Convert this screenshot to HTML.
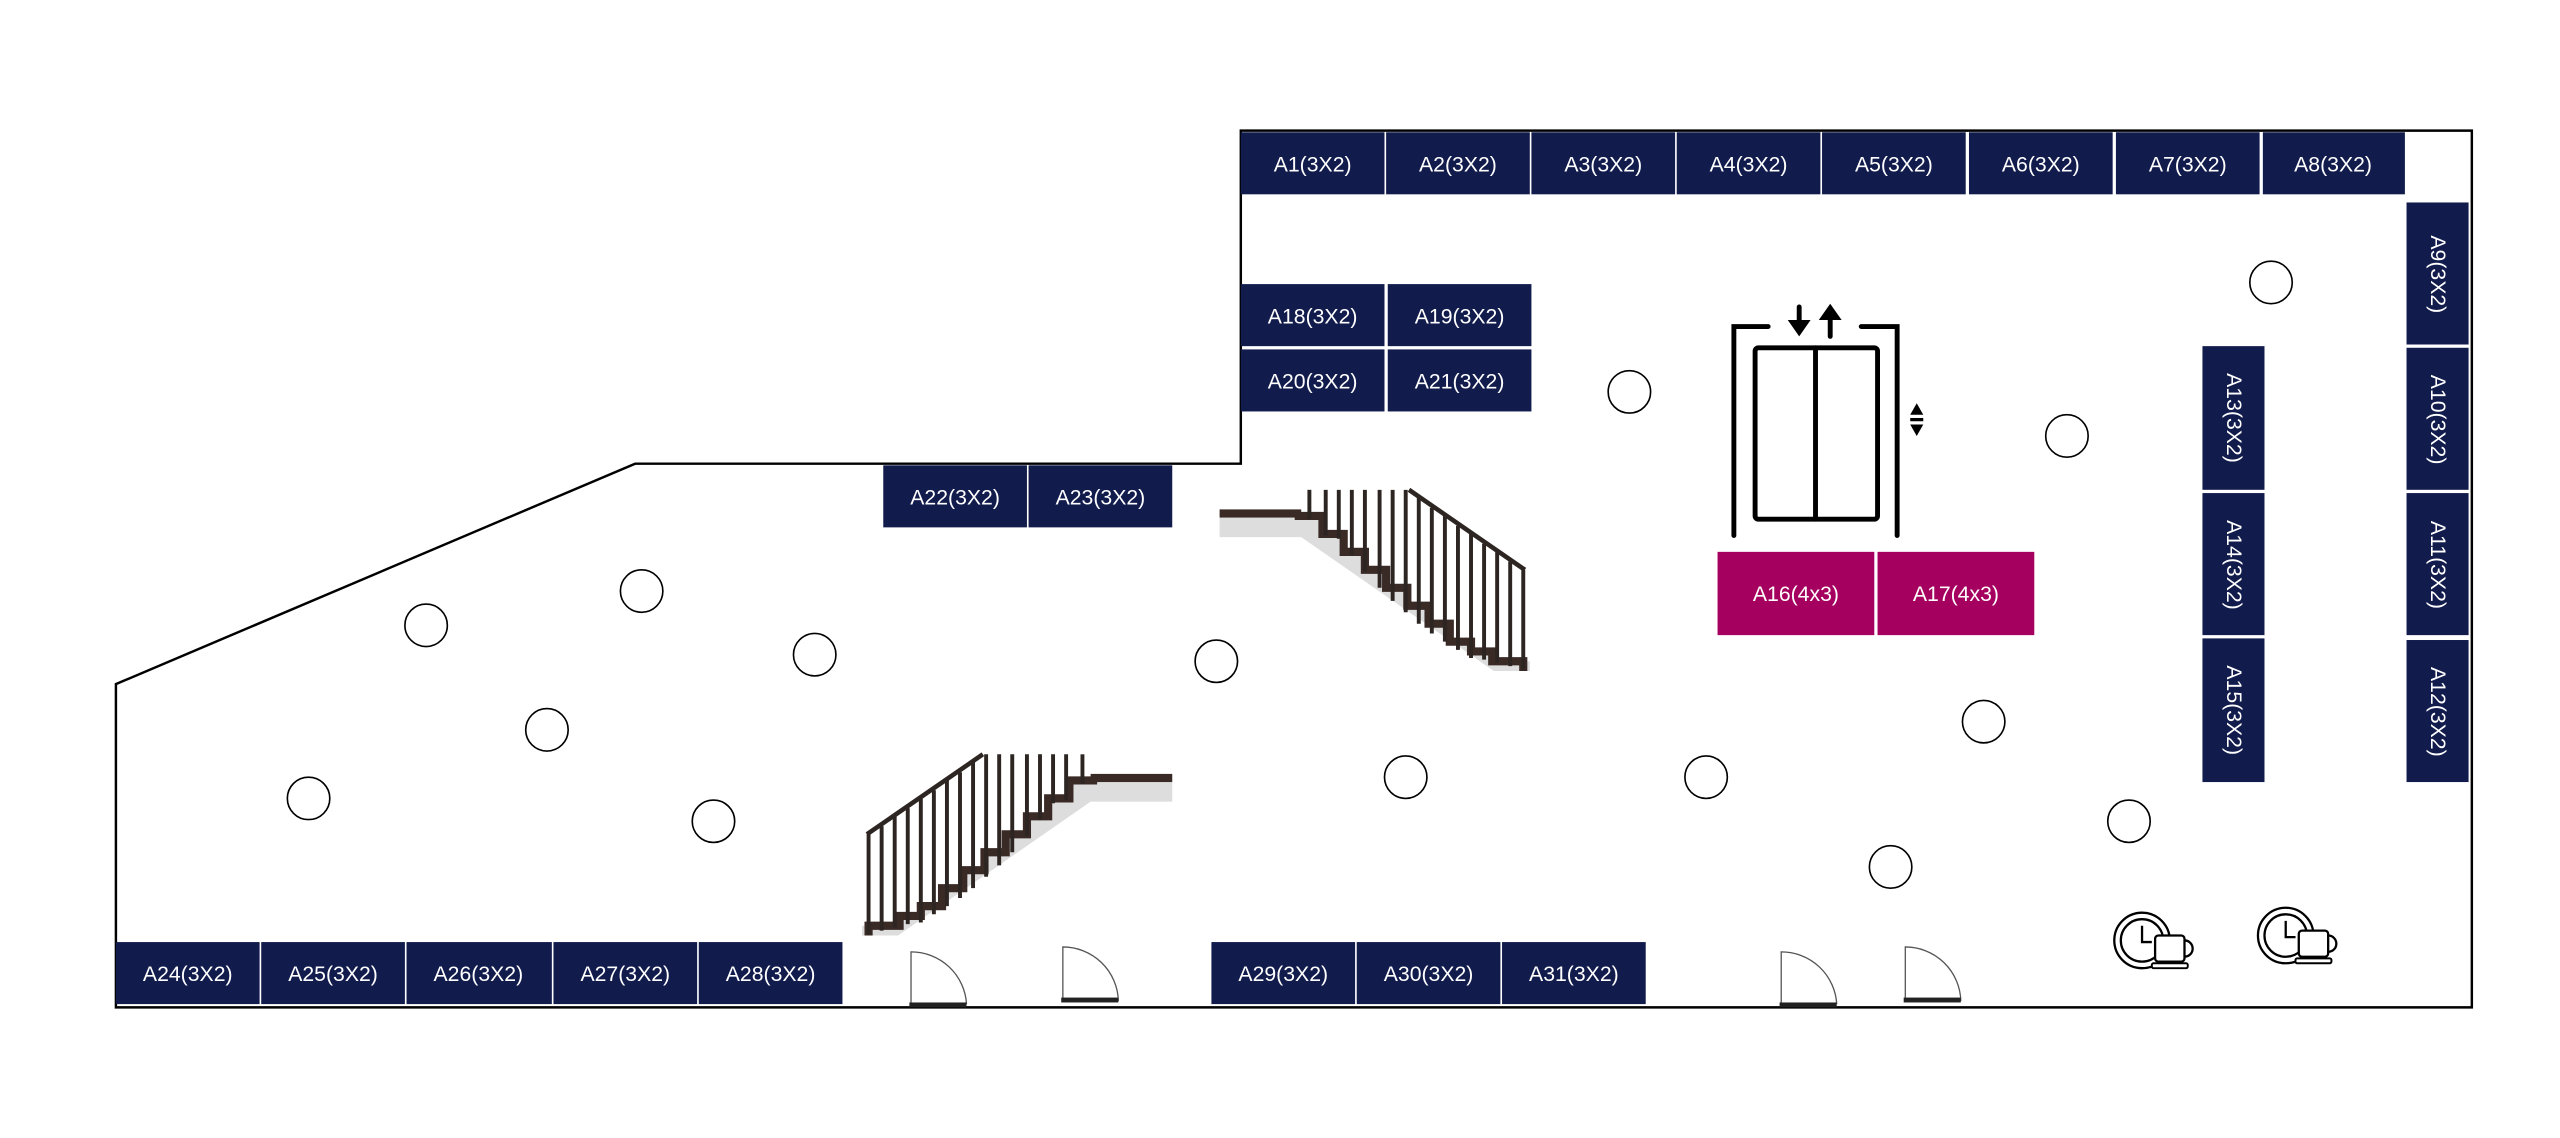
<!DOCTYPE html>
<html><head><meta charset="utf-8"><style>
html,body{margin:0;padding:0;background:#fff;}
svg{display:block}
text{font-family:"Liberation Sans",sans-serif;font-size:13px;fill:#fff;}
</style></head><body>
<svg width="2560" height="1138" viewBox="0 0 1568 697" xmlns="http://www.w3.org/2000/svg">
<defs>
<g id="stairs">
  <rect x="747" y="317" width="50" height="12" fill="#ddd"/>
  <polygon points="793,316 810,316 810,327 823,327 823,338 836,338 836,349 849,349 849,360 862,360 862,371 875,371 875,382 888,382 888,393 901,393 901,399 914,399 914,405 937,405 937,411 915,411 797,329" fill="#ddd"/>
  <rect x="747" y="312" width="50" height="5" fill="#3a2a26"/>
  <path d="M793,316 H810 V327 H823 V338 H836 V349 H849 V360 H862 V371 H875 V382 H888 V393 H901 V399 H914 V405 H933 V411" fill="none" stroke="#3a2a26" stroke-width="5"/>
  <g stroke="#2d2522" stroke-width="2.4">
    <line x1="802" y1="300" x2="802" y2="318"/>
    <line x1="812" y1="300" x2="812" y2="328"/>
    <line x1="820" y1="300" x2="820" y2="330"/>
    <line x1="828" y1="300" x2="828" y2="340"/>
    <line x1="836" y1="300" x2="836" y2="350"/>
    <line x1="845" y1="300" x2="845" y2="360"/>
    <line x1="853" y1="300" x2="853" y2="368"/>
    <line x1="861" y1="300" x2="861" y2="375"/>
    <line x1="869" y1="305" x2="869" y2="382"/>
    <line x1="877" y1="311" x2="877" y2="388"/>
    <line x1="885" y1="316" x2="885" y2="393"/>
    <line x1="893" y1="322" x2="893" y2="398"/>
    <line x1="901" y1="327" x2="901" y2="403"/>
    <line x1="909" y1="333" x2="909" y2="404"/>
    <line x1="917" y1="338" x2="917" y2="406"/>
    <line x1="925" y1="344" x2="925" y2="408"/>
    <line x1="933" y1="349" x2="933" y2="410"/>
    <line x1="863" y1="300" x2="934" y2="349" stroke-width="2.8"/>
  </g>
</g>
<g id="clock">
  <circle cx="0" cy="0" r="17" fill="#fff" stroke="#000" stroke-width="1.4"/>
  <circle cx="0" cy="0" r="13" fill="none" stroke="#000" stroke-width="1.4"/>
  <path d="M0,-9 V1 H6" fill="none" stroke="#000" stroke-width="1.4"/>
  <rect x="8" y="-3" width="18" height="16" rx="2" fill="#fff" stroke="#000" stroke-width="1.4"/>
  <path d="M26,0 a5,5 0 0 1 0,10" fill="none" stroke="#000" stroke-width="1.4"/>
  <rect x="6" y="14" width="22" height="3" rx="1" fill="#fff" stroke="#000" stroke-width="1.2"/>
</g>
</defs>

<path d="M760,80 H1514 V617 H71 V419 L389,284 H760 Z" fill="none" stroke="#000" stroke-width="1.5"/>

<g fill="#111b4c">
<rect x="760" y="81" width="88" height="38"/><rect x="849" y="81" width="88" height="38"/>
<rect x="938" y="81" width="88" height="38"/><rect x="1027" y="81" width="88" height="38"/>
<rect x="1116" y="81" width="88" height="38"/><rect x="1206" y="81" width="88" height="38"/>
<rect x="1296" y="81" width="88" height="38"/><rect x="1386" y="81" width="87" height="38"/>
<rect x="1474" y="124" width="38" height="87"/><rect x="1474" y="213" width="38" height="87"/>
<rect x="1474" y="302" width="38" height="87"/><rect x="1474" y="392" width="38" height="87"/>
<rect x="1349" y="212" width="38" height="88"/><rect x="1349" y="302" width="38" height="87"/>
<rect x="1349" y="391" width="38" height="88"/>
<rect x="760" y="174" width="88" height="38"/><rect x="850" y="174" width="88" height="38"/>
<rect x="760" y="214" width="88" height="38"/><rect x="850" y="214" width="88" height="38"/>
<rect x="541" y="285" width="88" height="38"/><rect x="630" y="285" width="88" height="38"/>
<rect x="71" y="577" width="88" height="38"/><rect x="160" y="577" width="88" height="38"/>
<rect x="249" y="577" width="89" height="38"/><rect x="339" y="577" width="88" height="38"/>
<rect x="428" y="577" width="88" height="38"/>
<rect x="742" y="577" width="88" height="38"/><rect x="831" y="577" width="88" height="38"/>
<rect x="920" y="577" width="88" height="38"/>
</g>
<g fill="#a5005f">
<rect x="1052" y="338" width="96" height="51"/><rect x="1150" y="338" width="96" height="51"/>
</g>

<g text-anchor="middle">
<text x="804" y="105">A1(3X2)</text><text x="893" y="105">A2(3X2)</text>
<text x="982" y="105">A3(3X2)</text><text x="1071" y="105">A4(3X2)</text>
<text x="1160" y="105">A5(3X2)</text><text x="1250" y="105">A6(3X2)</text>
<text x="1340" y="105">A7(3X2)</text><text x="1429" y="105">A8(3X2)</text>
<text x="804" y="198">A18(3X2)</text><text x="894" y="198">A19(3X2)</text>
<text x="804" y="238">A20(3X2)</text><text x="894" y="238">A21(3X2)</text>
<text x="585" y="309">A22(3X2)</text><text x="674" y="309">A23(3X2)</text>
<text x="1100" y="368">A16(4x3)</text><text x="1198" y="368">A17(4x3)</text>
<text x="115" y="601">A24(3X2)</text><text x="204" y="601">A25(3X2)</text>
<text x="293" y="601">A26(3X2)</text><text x="383" y="601">A27(3X2)</text>
<text x="472" y="601">A28(3X2)</text>
<text x="786" y="601">A29(3X2)</text><text x="875" y="601">A30(3X2)</text>
<text x="964" y="601">A31(3X2)</text>
<text transform="translate(1489,168) rotate(90)">A9(3X2)</text>
<text transform="translate(1489,257) rotate(90)">A10(3X2)</text>
<text transform="translate(1489,346) rotate(90)">A11(3X2)</text>
<text transform="translate(1489,436) rotate(90)">A12(3X2)</text>
<text transform="translate(1364,256) rotate(90)">A13(3X2)</text>
<text transform="translate(1364,346) rotate(90)">A14(3X2)</text>
<text transform="translate(1364,435) rotate(90)">A15(3X2)</text>
</g>

<g fill="#fff" stroke="#000" stroke-width="1">
<circle cx="998" cy="240" r="13"/><circle cx="1391" cy="173" r="13"/>
<circle cx="1266" cy="267" r="13"/><circle cx="393" cy="362" r="13"/>
<circle cx="261" cy="383" r="13"/><circle cx="499" cy="401" r="13"/>
<circle cx="745" cy="405" r="13"/><circle cx="335" cy="447" r="13"/>
<circle cx="189" cy="489" r="13"/><circle cx="437" cy="503" r="13"/>
<circle cx="861" cy="476" r="13"/><circle cx="1045" cy="476" r="13"/>
<circle cx="1215" cy="442" r="13"/><circle cx="1304" cy="503" r="13"/>
<circle cx="1158" cy="531" r="13"/>
</g>

<g fill="none" stroke="#000" stroke-width="3" stroke-linecap="round">
<path d="M1062,328 V200 H1083"/>
<path d="M1162,328 V200 H1140"/>
<rect x="1075" y="213" width="75" height="105" rx="2"/>
<line x1="1112" y1="213" x2="1112" y2="318"/>
<line x1="1102" y1="188" x2="1102" y2="199"/>
<line x1="1121" y1="194" x2="1121" y2="206"/>
</g>
<polygon points="1095,196 1109,196 1102,206" fill="#000"/>
<polygon points="1114,196 1128,196 1121,186" fill="#000"/>
<polygon points="1170,254 1178,254 1174,247" fill="#000"/>
<rect x="1170" y="256" width="8" height="2" fill="#000"/>
<polygon points="1170,260 1178,260 1174,267" fill="#000"/>

<use href="#stairs"/>
<g transform="translate(1465,162) scale(-1,1)"><use href="#stairs"/></g>

<g fill="none" stroke="#555" stroke-width="0.8">
<path d="M558,615 V583 A34,34 0 0 1 592,615"/>
<path d="M651,613 V580 A34,34 0 0 1 685,613"/>
<path d="M1091,615 V583 A34,34 0 0 1 1125,615"/>
<path d="M1167,613 V580 A34,34 0 0 1 1201,613"/>
</g>
<g fill="#222">
<rect x="557" y="614" width="35" height="3"/><rect x="650" y="611" width="35" height="3"/>
<rect x="1090" y="614" width="35" height="3"/><rect x="1166" y="611" width="35" height="3"/>
</g>

<g transform="translate(1312,576)"><use href="#clock"/></g>
<g transform="translate(1400,573)"><use href="#clock"/></g>
</svg>
</body></html>
